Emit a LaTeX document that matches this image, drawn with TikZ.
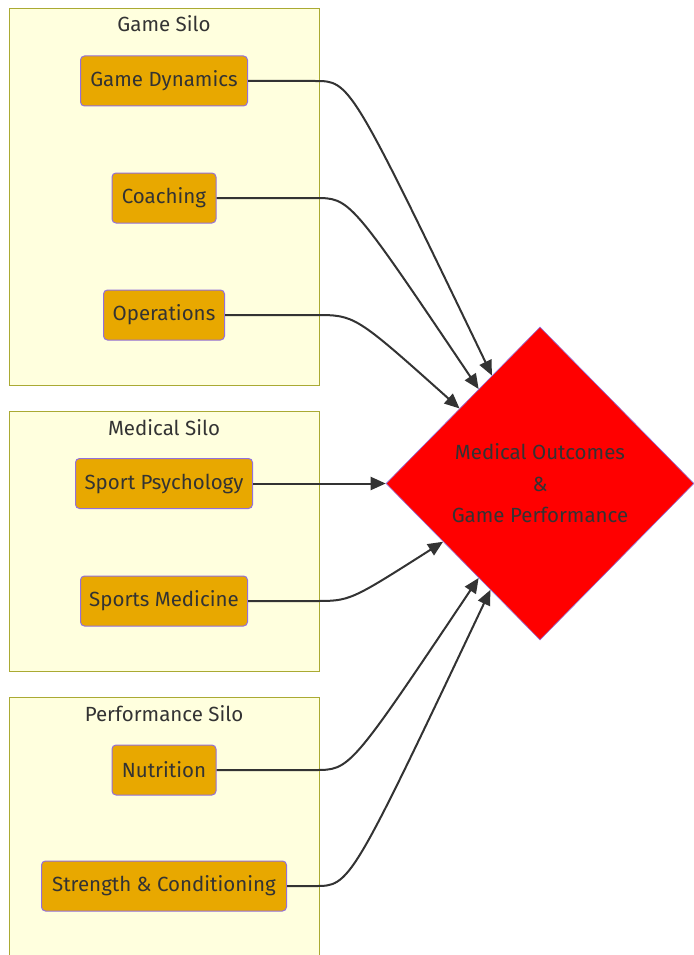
\documentclass[tikz,border=0pt]{standalone}
\usepackage{fontspec}
\setmainfont{Fira Sans}
\usetikzlibrary{shapes.geometric,arrows.meta}
\definecolor{silofill}{HTML}{FFFFDE}
\definecolor{siloline}{HTML}{AAAA33}
\definecolor{boxfill}{HTML}{E8A800}
\definecolor{boxline}{HTML}{9370DB}
\definecolor{txt}{HTML}{333333}
\tikzset{
  silo/.style={draw=siloline, fill=silofill, line width=1pt},
  silotitle/.style={font=\fontsize{20.5}{22}\selectfont, text=txt, anchor=center},
  box/.style={draw=boxline, fill=boxfill, line width=1pt, rounded corners=4pt,
    minimum height=50pt, inner sep=0pt, font=\fontsize{20.5}{22}\selectfont, text=txt},
  goal/.style={diamond, draw=boxline, fill=red, line width=0.6pt, aspect=1, inner sep=0pt,
    minimum width=308pt, minimum height=313pt, font=\fontsize{20.5}{31.5}\selectfont, text=txt, align=center},
  link/.style={draw=txt, line width=2pt, -{Triangle[length=15pt,width=13pt]}}
}
\begin{document}
\begin{tikzpicture}[x=1pt,y=-1pt]
\useasboundingbox (0,0) rectangle (693,955);
% silos
\draw[silo] (9,9) rectangle (319,385);
\node[silotitle] (t1) at (164,24) {Game Silo};
\draw[silo] (9,411) rectangle (319,671);
\node[silotitle] (t2) at (164,428) {Medical Silo};
\draw[silo] (9,697) rectangle (319,965);
\node[silotitle] (t3) at (164,714) {Performance Silo};
% boxes
\node[box, minimum width=167pt] (gd) at (164,81) {Game Dynamics};
\node[box, minimum width=104pt] (co) at (164,198) {Coaching};
\node[box, minimum width=121pt] (op) at (164,315) {Operations};
\node[box, minimum width=177pt] (sp) at (164,483.5) {Sport Psychology};
\node[box, minimum width=167pt] (sm) at (164,601) {Sports Medicine};
\node[box, minimum width=104pt] (nu) at (164,770) {Nutrition};
\node[box, minimum width=245pt] (sc) at (164,886) {Strength \& Conditioning};
% goal
\node[goal] (dia) at (540,483.5) {Medical Outcomes\\\&\\Game Performance};
% links
\draw[link] (gd.east) -- (315,81) .. controls (350,81) .. (dia.114.8);
\draw[link] (co.east) -- (315,198) .. controls (350,198) .. (dia.123.1);
\draw[link] (op.east) -- (315,315) .. controls (355,315) .. (dia.137.1);
\draw[link] (sp.east) -- (dia.west);
\draw[link] (sm.east) -- (315,601) .. controls (350,601) .. (dia.211.7);
\draw[link] (nu.east) -- (315,770) .. controls (350,770) .. (dia.237);
\draw[link] (sc.east) -- (315,886) .. controls (350,886) .. (dia.245.8);
\end{tikzpicture}
\end{document}
